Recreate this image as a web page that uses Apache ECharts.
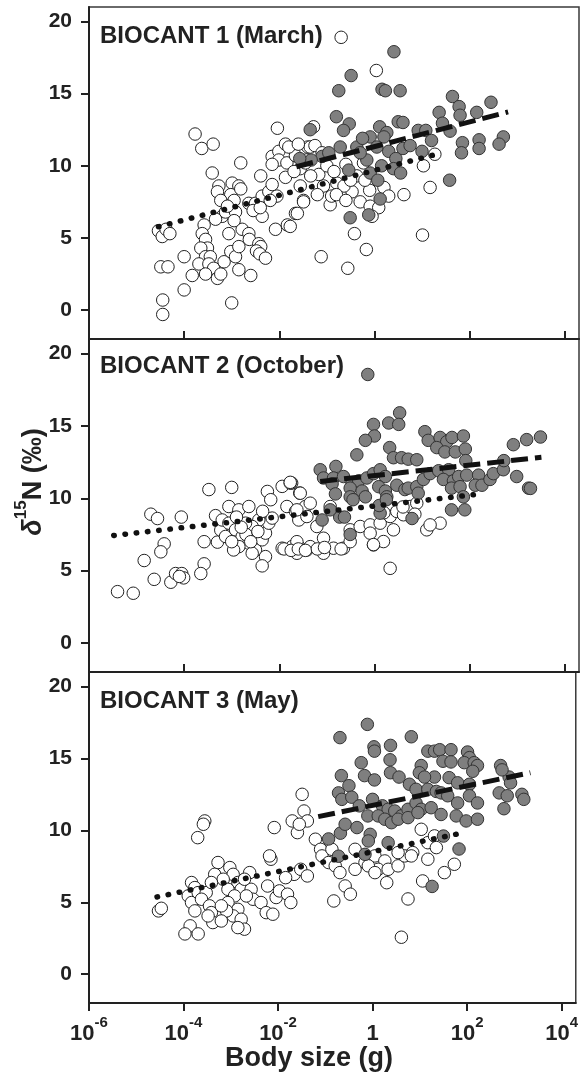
<!DOCTYPE html>
<html>
<head>
<meta charset="utf-8">
<script src="https://cdn.jsdelivr.net/npm/echarts@6/dist/echarts.min.js"></script>
<style>
html,body{margin:0;padding:0;background:#fff;}
#chart{width:581px;height:1074px;}
</style>
</head>
<body>
<div id="chart"></div>
<script>
// Data: each point is [log10 body size (g), delta15N (per mil)]
const panelTitles = ['BIOCANT 1 (March)', 'BIOCANT 2 (October)', 'BIOCANT 3 (May)'];
const xTickExponents = [-6, -4, -2, 0, 2, 4];
const yTickValues = [0, 5, 10, 15, 20];

const p1Open = [
[-4.54,5.5],[-4.46,5.1],[-4.38,5.6],[-4.30,5.3],[-4.49,3.0],[-4.34,3.0],[-4.45,0.7],[-4.45,-0.3],
[-4.00,3.7],[-4.00,1.4],[-3.83,2.4],[-3.77,12.2],[-3.63,11.2],[-3.39,11.5],[-3.41,9.5],
[-3.58,5.9],[-3.62,5.3],[-3.55,4.9],[-3.51,4.3],[-3.65,4.3],[-3.55,3.7],[-3.45,3.7],[-3.69,3.2],[-3.48,3.2],[-3.38,2.9],[-3.55,2.5],[-3.30,2.2],[-3.23,2.5],
[-3.16,3.35],[-3.02,4.05],[-2.92,3.7],[-2.85,4.4],[-2.85,2.8],[-2.60,2.4],[-3.00,0.5],
[-3.06,5.3],[-2.78,5.6],[-2.64,5.3],[-2.63,4.9],[-2.43,4.6],[-2.39,4.4],[-2.48,4.1],[-2.41,3.9],[-2.29,3.6],
[-3.27,8.6],[-3.30,8.2],[-2.99,8.8],[-2.85,8.6],[-3.02,8.0],[-3.23,7.6],[-2.95,7.6],[-2.81,8.4],[-3.20,6.5],[-3.34,6.3],[-3.13,6.8],[-2.92,6.8],[-2.95,6.2],[-3.09,7.2],[-2.64,7.4],[-2.50,7.4],[-2.36,7.9],[-2.22,8.2],[-2.05,7.9],[-2.19,7.6],[-2.15,8.7],[-2.39,9.3],[-2.81,10.2],
[-2.08,5.6],[-1.83,5.9],[-1.66,6.7],[-1.49,7.6],[-2.36,6.5],[-2.55,6.9],[-2.40,7.1],
[-2.04,12.6],[-2.15,10.65],[-2.01,11.0],[-1.87,11.5],[-1.73,11.25],[-2.01,10.4],[-2.15,10.1],[-1.84,10.2],[-1.66,10.7],[-1.56,9.8],[-1.87,9.2],[-1.43,10.4],[-1.40,11.3],
[-0.70,18.9],[0.04,16.6],[-1.12,3.7],[-0.56,2.9],[-0.17,4.2],[-0.42,5.3],[1.01,5.2],[0.62,8.0],[1.17,8.5],[1.03,10.0],[1.27,10.8],[-1.35,11.3],[-1.28,12.7],
[-1.49,7.5],[-0.93,7.3],[-0.90,7.9],[-0.47,8.2],[-0.30,7.5],[-0.09,7.2],[0.09,7.1],[-0.05,6.5],[-1.07,8.6],[-0.79,8.8],[-0.64,8.6],[-0.37,9.3],[-0.23,10.2],[-1.45,10.2],[-1.69,9.6],[-1.17,9.4],[-1.34,9.3],[-1.56,8.6],[-1.77,5.8],[-0.80,8.0],[-1.62,6.7],
[-1.80,11.3],[-1.60,11.5],[-1.25,11.4],[-0.10,8.3],[0.20,8.5],[0.30,7.9],[-0.60,7.6],[-1.20,8.0],
[-1.00,10.0],[-0.85,9.6],[-0.60,10.1],[-1.10,10.9],[-0.50,9.0],[-0.20,9.0]
];
const p1Gray = [
[0.41,17.9],[-0.49,16.25],[-0.75,15.2],[0.16,15.3],[0.23,15.2],[0.54,15.2],[-0.80,13.4],[-0.53,12.9],[-0.65,12.45],[-1.35,12.5],[0.11,12.7],[0.26,12.3],[0.50,13.05],[0.60,13.0],[0.92,12.45],[1.08,12.45],[1.20,11.75],
[1.36,13.7],[1.64,14.8],[1.78,14.1],[1.80,13.5],[1.43,12.95],[1.59,12.4],[1.85,11.6],[1.83,10.9],[2.15,13.7],[2.45,14.4],[2.20,11.8],[2.20,11.2],[2.71,12.0],[2.62,11.5],[1.58,9.0],
[-0.37,11.3],[-0.16,10.4],[-0.09,9.5],[0.07,9.0],[0.12,7.7],[-0.12,6.6],[-0.51,6.4],[-1.10,10.65],[-1.33,10.4],[-1.57,10.5],[-0.72,11.3],[-0.96,10.9],[-0.54,9.7],
[0.20,12.0],[0.30,11.0],[0.45,10.5],[0.40,9.8],[0.60,11.2],[0.55,9.5],[-0.09,12.0],[-0.25,11.9],[0.05,11.3],[0.75,11.4],[1.00,11.0],[-0.30,10.9],[0.15,10.0]
];
const p1Dotted = [[-4.54,5.78],[1.34,10.83]];
const p1Dashed = [[-1.64,9.93],[2.81,13.73]];

const p2Open = [
[-5.40,3.55],[-5.07,3.44],[-4.84,5.7],[-4.70,8.9],[-4.56,8.6],[-4.06,8.7],[-4.42,6.85],[-4.49,6.3],[-3.58,7.0],[-3.58,5.47],[-3.65,4.8],[-4.63,4.4],[-4.28,4.2],[-4.18,4.8],[-4.05,4.8],[-4.01,4.5],[-4.10,4.6],[-3.48,10.6],[-3.00,10.75],
[-3.30,6.97],[-3.34,8.8],[-3.23,7.8],[-3.13,7.36],[-3.06,9.43],[-2.85,9.2],[-2.64,9.43],[-3.20,8.5],[-3.06,8.28],[-2.92,7.82],[-2.78,7.36],[-2.64,6.9],[-2.50,6.43],[-2.36,7.13],[-2.29,7.59],[-2.22,8.28],[-2.43,8.5],[-2.57,8.05],[-2.71,8.28],[-2.85,6.66],[-2.96,6.43],[-2.57,6.2],[-2.29,5.97],[-2.36,5.33],
[-2.25,10.47],[-2.18,9.9],[-1.94,10.82],[-1.74,11.05],[-1.57,10.36],[-1.84,9.43],[-1.66,9.09],[-1.45,9.43],[-1.59,8.5],[-1.94,6.55],[-1.73,6.66],[-1.59,6.66],[-1.42,6.43],[-2.15,8.63],
[-2.90,8.7],[-2.70,7.5],[-2.45,7.7],[-3.00,7.0],[-2.80,8.0],[-2.60,7.0],[-2.35,9.1],
[-1.77,11.05],[-1.56,10.35],[-1.35,9.66],[-1.63,9.2],[-1.42,8.74],[-1.21,8.05],[-1.63,7.0],[-1.35,6.66],[-1.07,7.24],[-0.86,6.55],[-0.65,6.55],[-0.93,9.43],
[-0.51,7.82],[-0.30,8.05],[-0.09,8.16],[0.12,8.28],[0.33,8.74],[0.47,9.09],[0.61,8.86],[0.75,9.43],[0.89,9.66],[1.10,7.82],[1.38,8.28],[1.17,8.16],[0.33,5.16],
[-0.02,6.78],[0.19,7.01],[-0.51,7.0],[-0.09,7.59],[0.40,7.82],[-1.07,6.2],[-1.63,6.2],
[-1.90,6.5],[-1.75,6.4],[-1.60,6.5],[-1.45,6.4],[-1.20,6.5],[-1.05,6.6],[-0.70,6.5],[-0.02,6.8],[0.60,9.4],[0.85,8.9],[0.20,9.0],[-1.77,11.1]
];
const p2Gray = [
[-0.14,18.55],[0.53,15.9],[0.30,15.2],[0.51,15.1],[-0.02,15.1],[0.00,14.3],[-0.19,14.0],[1.06,14.6],
[1.13,14.0],[1.38,14.2],[1.52,13.9],[1.63,14.2],[1.87,14.3],[1.31,13.5],[1.48,13.2],[1.70,13.2],[1.91,13.4],[1.92,12.6],
[0.32,13.5],[-0.37,13.0],[0.40,12.8],[0.57,12.8],[0.71,12.7],[0.89,12.66],[-1.14,11.97],[-0.81,12.2],
[-1.07,11.4],[-0.86,11.4],[-0.65,11.5],[-0.89,11.0],[-0.47,11.0],[-0.33,11.2],[-0.16,11.4],[-0.02,11.7],[0.12,11.97],[0.23,11.5],
[-0.51,10.7],[-0.51,10.1],[-0.26,10.5],[-0.19,10.1],[0.09,10.8],[0.23,10.5],[0.26,10.1],[0.47,10.9],[0.64,10.6],[0.71,10.7],[0.89,10.8],[0.92,10.35],
[1.03,11.3],[1.17,11.7],[1.35,11.9],[1.56,11.97],[1.45,11.3],[1.66,11.2],[1.77,11.5],[1.94,11.6],[2.19,11.6],[2.12,10.9],[2.26,10.9],[2.43,11.3],[2.50,11.7],[2.71,11.97],[2.92,13.7],[3.20,14.05],[2.99,11.5],[3.24,10.7],
[1.62,10.7],[1.80,10.8],[1.87,10.1],[-0.82,10.3],[-1.10,8.5],[-0.73,8.7],[-0.51,7.5],[0.12,8.97],[0.79,8.6],[1.62,9.2],[1.90,9.2],
[3.49,14.23],[2.72,12.6],[3.28,10.68],[-0.45,9.9],[0.10,9.5],[0.25,9.9],[-0.93,9.2],[-0.63,8.7]
];
const p2Dotted = [[-5.48,7.43],[2.08,10.24]];
const p2Dashed = [[-1.14,11.16],[3.51,12.83]];

const p3Open = [
[-3.55,10.65],[-3.58,10.42],[-3.70,9.49],[-4.53,4.40],[-4.47,4.58],[-3.86,3.36],[-3.97,2.8],[-3.69,2.8],
[-3.83,6.37],[-3.76,6.02],[-3.90,5.44],[-3.83,4.98],[-3.76,4.40],[-3.69,5.67],[-3.52,5.67],[-3.62,5.21],[-3.45,4.75],[-3.41,4.28],[-3.38,3.59],[-3.48,4.05],
[-3.27,7.76],[-3.02,7.41],[-2.95,6.94],[-3.34,6.94],[-3.16,6.60],[-2.85,6.37],[-2.78,5.90],[-3.06,5.90],[-2.92,5.44],[-3.06,4.98],[-2.85,4.51],[-2.95,4.05],[-2.78,3.82],[-2.71,3.13],[-2.85,3.24],[-3.09,4.40],[-3.20,3.70],
[-2.60,7.06],[-2.57,5.90],[-2.53,5.21],[-2.36,4.98],[-2.25,4.28],[-2.11,4.17],[-2.04,5.33],[-1.97,5.79],[-1.80,5.56],[-1.73,4.98],[-2.22,6.13],[-2.15,7.99],[-2.18,8.22],
[-1.49,12.5],[-1.45,11.34],[-1.70,10.65],[-1.59,9.84],[-2.08,10.19],[-1.66,6.94],[-1.52,7.29],[-1.38,6.83],[-1.84,6.71],
[-3.41,6.37],[-2.71,6.6],[-3.20,4.75],[-2.67,5.44],
[-1.38,10.65],[-1.55,10.42],[-1.21,9.38],[-1.10,8.68],[-1.07,8.22],[-0.86,8.68],[-0.93,7.76],[-0.79,7.53],[-0.69,7.06],[-0.58,6.13],[-0.47,5.56],[-0.82,5.09],
[-0.37,8.68],[-0.16,7.76],[0.05,8.22],[0.26,7.87],[0.12,7.29],[0.33,7.29],[0.30,6.36],[0.54,7.53],[0.68,8.22],[0.85,8.45],[1.03,10.07],[1.17,9.14],[1.31,9.61],[1.17,7.99],[1.35,8.8],[1.06,6.48],[1.52,7.06],[1.73,7.64],[0.75,5.23],[0.61,2.57],
[-0.37,7.29],[-0.09,7.53],[0.05,7.06],[0.54,8.45],[0.82,8.22]
];
const p3Gray = [
[-0.11,17.36],[-0.69,16.44],[0.82,16.5],[0.03,15.8],[0.04,15.5],[0.38,15.9],[0.37,14.9],[-0.24,14.7],
[-0.17,13.8],[0.04,13.5],[0.38,14.0],[0.56,13.7],[-0.66,13.8],[-0.50,13.1],[-0.72,12.6],[-0.65,12.15],[-0.44,12.3],
[1.03,14.5],[0.99,14.0],[1.31,13.7],[1.10,13.7],[1.17,15.5],[1.31,15.5],[1.42,15.6],[1.66,15.6],[2.01,15.44],[2.05,15.05],
[1.49,14.8],[1.66,14.75],[1.94,14.7],[2.15,14.7],[2.22,14.5],[2.12,14.1],[1.62,13.66],[1.80,13.3],[2.05,13.2],
[0.78,13.2],[0.92,12.85],[1.17,12.85],[1.35,12.7],[1.45,12.6],[1.59,12.4],[1.80,11.9],[2.05,12.4],[2.22,11.9],
[0.00,12.15],[0.21,11.7],[0.33,11.46],[0.47,11.34],[0.61,11.0],[0.75,11.46],[0.92,11.9],[1.03,11.46],[1.24,11.57],
[-0.28,11.7],[-0.10,11.0],[0.12,11.0],[0.26,10.77],[0.40,10.53],[0.54,10.77],[0.75,10.88],[0.96,11.23],[1.45,11.1],[1.77,11.0],[1.98,10.65],[2.22,10.77],
[-0.93,9.4],[-0.68,9.8],[-0.58,10.42],[-0.33,10.19],[-0.05,9.72],[-0.09,9.26],[-0.72,8.2],[-0.16,8.33],[0.33,9.14],
[1.50,9.6],[1.83,8.7],[1.26,6.1],
[2.71,14.5],[2.89,13.7],[2.68,12.6],[2.85,12.4],[3.16,12.5],[2.78,11.5],[2.74,14.2],[2.92,13.3],[3.20,12.15]
];
const p3Dotted = [[-4.56,5.37],[1.83,9.77]];
const p3Dashed = [[-1.15,10.95],[3.34,14.0]];

const openSets = [p1Open, p2Open, p3Open];
const graySets = [p1Gray, p2Gray, p3Gray];
const dottedSets = [p1Dotted, p2Dotted, p3Dotted];
const dashedSets = [p1Dashed, p2Dashed, p3Dashed];

const FONT = '"Liberation Sans", Arial, Helvetica, sans-serif';
const gridTops = [7, 339, 672];
const gridHeights = [332, 333, 331];

const grids = [], xAxes = [], yAxes = [], series = [], titles = [];
for (let i = 0; i < 3; i++) {
  grids.push({left: 89, width: 490, top: gridTops[i], height: gridHeights[i],
    show: true, borderColor: '#3a3a3a', borderWidth: 1.5, backgroundColor: 'transparent'});
  xAxes.push({
    type: 'value', gridIndex: i, min: -6, max: 4.3,
    axisLine: {onZero: false, lineStyle: {color: '#222', width: 2}},
    axisTick: {inside: i < 2, length: 8, customValues: xTickExponents, lineStyle: {color: '#222', width: 2}},
    splitLine: {show: false},
    axisLabel: {
      show: i === 2, customValues: xTickExponents, margin: 12,
      formatter: v => v === 0 ? '{b|1}' : '{b|10}{s|' + v + '}',
      rich: {
        b: {fontSize: 22, fontWeight: 'bold', color: '#222', fontFamily: FONT, lineHeight: 30, verticalAlign: 'bottom'},
        s: {fontSize: 15, fontWeight: 'bold', color: '#222', fontFamily: FONT, lineHeight: 30, verticalAlign: 'top'}
      }
    }
  });
  yAxes.push({
    type: 'value', gridIndex: i, min: -2, max: 21,
    axisLine: {onZero: false, lineStyle: {color: '#222', width: 2}},
    axisTick: {inside: false, length: 8, customValues: yTickValues, lineStyle: {color: '#222', width: 2}},
    splitLine: {show: false},
    axisLabel: {customValues: yTickValues, margin: 17, fontSize: 21, fontWeight: 'bold', color: '#222', fontFamily: FONT}
  });
  series.push({type: 'scatter', xAxisIndex: i, yAxisIndex: i, data: openSets[i], symbolSize: 12.5,
    itemStyle: {color: '#ffffff', borderColor: '#222', borderWidth: 1, opacity: 1}, z: 2, silent: true});
  series.push({type: 'scatter', xAxisIndex: i, yAxisIndex: i, data: graySets[i], symbolSize: 12.5,
    itemStyle: {color: '#7f7f7f', borderColor: '#333', borderWidth: 1, opacity: 1}, z: 3, silent: true});
  series.push({type: 'line', xAxisIndex: i, yAxisIndex: i, data: dottedSets[i], symbol: 'none',
    lineStyle: {color: '#111', width: 5.5, type: [0.5, 10.8], cap: 'round'}, z: 4, silent: true});
  series.push({type: 'line', xAxisIndex: i, yAxisIndex: i, data: dashedSets[i], symbol: 'none',
    lineStyle: {color: '#111', width: 5, type: [17, 7]}, z: 5, silent: true});
  titles.push({text: panelTitles[i], left: 100, top: gridTops[i] + [17, 15, 17][i], padding: 0,
    textStyle: {fontSize: 24, fontWeight: 'bold', color: '#222', fontFamily: FONT}});
}

const chart = echarts.init(document.getElementById('chart'), null, {renderer: 'canvas'});
chart.setOption({
  animation: false,
  backgroundColor: '#fff',
  title: titles,
  grid: grids, xAxis: xAxes, yAxis: yAxes, series: series,
  graphic: [
    {type: 'text', x: 30, y: 482, rotation: Math.PI / 2,
      style: {text: '{i|δ}{s|15}{b|N (‰)}', align: 'center', verticalAlign: 'middle',
        rich: {
          i: {fontSize: 27, fontStyle: 'italic', fontWeight: 'bold', fill: '#222', fontFamily: FONT, lineHeight: 34, verticalAlign: 'bottom'},
          s: {fontSize: 17, fontWeight: 'bold', fill: '#222', fontFamily: FONT, lineHeight: 34, verticalAlign: 'top'},
          b: {fontSize: 27, fontWeight: 'bold', fill: '#222', fontFamily: FONT, lineHeight: 34, verticalAlign: 'bottom'}
        }}},
    {type: 'text', x: 309, y: 1059,
      style: {text: 'Body size (g)', align: 'center', verticalAlign: 'middle',
        fontSize: 27, fontWeight: 'bold', fill: '#222', fontFamily: FONT}}
  ]
});
</script>
</body>
</html>
